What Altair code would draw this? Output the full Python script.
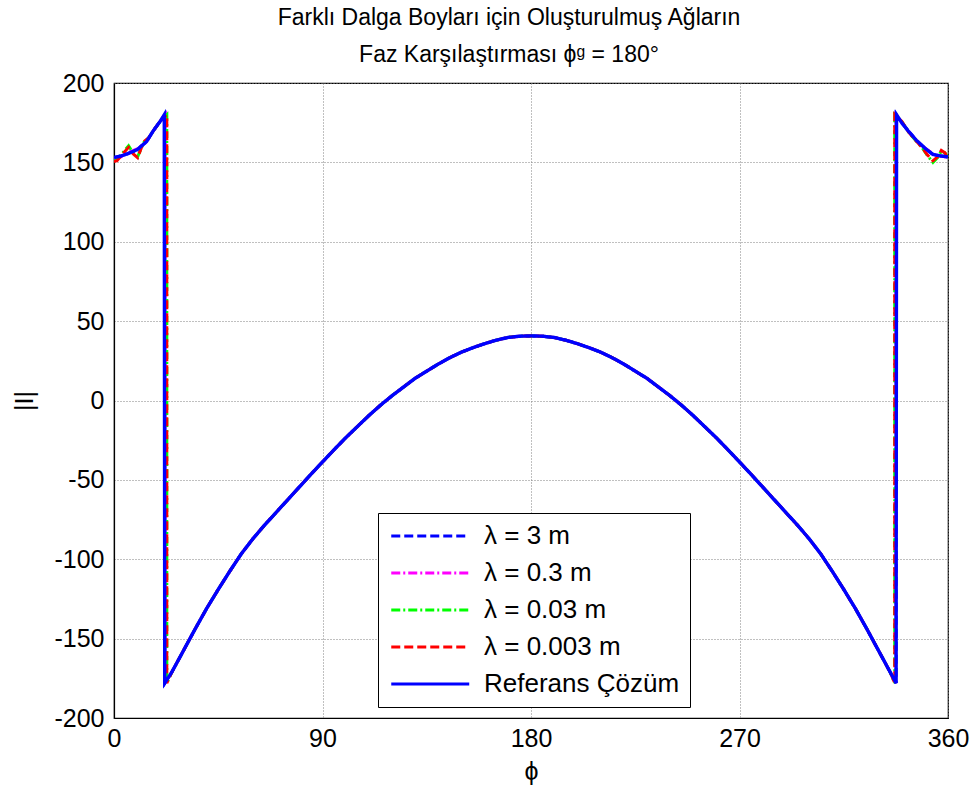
import altair as alt
import pandas as pd

FONT = "Liberation Sans"

series_names = ["λ = 3 m", "λ = 0.3 m", "λ = 0.03 m", "λ = 0.003 m", "Referans Çözüm"]
series_colors = ["#0000FF", "#FF00FF", "#00FF00", "#FF0000", "#0000FF"]
series_dashes = [[9, 4], [9, 3, 2, 3], [9, 3, 2, 3], [9, 4], [1, 0]]

# shared central arc (phase, degrees)
mid_x = [25, 30, 35, 40, 45, 50, 55, 60, 65, 70, 75, 80, 85, 90, 95, 100, 105, 110, 115, 120,
         125, 130, 135, 140, 145, 150, 155, 160, 165, 170, 175, 180, 185, 190, 195, 200, 205,
         210, 215, 220, 225, 230, 235, 240, 245, 250, 255, 260, 265, 270, 275, 280, 285, 290,
         295, 300, 305, 310, 315, 320, 325, 330, 335]
mid_y = [-171, -157.5, -144, -131, -119, -107.5, -96.5, -87, -78.5, -70.5, -62.5, -54.5, -46.5,
         -38.7, -31, -23.5, -16.5, -9.5, -3, 3, 8.5, 14, 18.5, 23, 27, 30.5, 33.3, 35.8, 38,
         39.7, 40.5, 40.7, 40.5, 39.7, 38, 35.8, 33.3, 30.5, 27, 23, 18.5, 14, 8.5, 3, -3,
         -9.5, -16.5, -23.5, -31, -38.7, -46.5, -54.5, -62.5, -70.5, -78.5, -87, -96.5,
         -107.5, -119, -131, -144, -157.5, -171]

# λ = 3 m
l3_left_x = [0, 3, 6, 10, 14, 17, 20, 22, 22]
l3_left_y = [153, 154, 155.5, 158, 163, 170, 176, 180, -178]
l3_right_x = [337.6, 337.6, 340, 343, 346.3, 350, 353.5, 357, 360]
l3_right_y = [-178, 180, 175, 169.5, 164, 159, 155, 154, 153.5]

# λ = 0.3 m
l03_left_x = [0, 3, 6, 10, 14, 17, 20, 22.3, 22.3]
l03_left_y = [152, 153.5, 156, 158.5, 163, 170, 176, 180, -178]
l03_right_x = [337.4, 337.4, 340, 343, 346, 350, 354, 357, 360]
l03_right_y = [-178, 180, 175.5, 169.5, 164, 159, 155, 154, 153]

# λ = 0.03 m
l003_left_x = [0, 1.5, 3.5, 6.3, 8.2, 10.2, 12.8, 15, 17.5, 20, 22.8, 22.8]
l003_left_y = [151, 152, 155.5, 160.5, 156, 153.5, 162.5, 165.5, 171, 176, 180, -178]
l003_right_x = [337, 337, 340, 343, 346, 349, 351, 353.5, 355.5, 357.1, 358.7, 360]
l003_right_y = [-178, 180, 176, 169, 164, 159, 154.5, 150, 153, 157, 156, 153]

# λ = 0.003 m
l0003_left_x = [0, 1.3, 3.5, 6.3, 8.2, 10.2, 12.8, 15, 17.5, 20, 22.8, 22.8]
l0003_left_y = [150.5, 151, 155, 159.5, 155.5, 153, 163, 165.5, 171, 176, 180, -178]
l0003_right_x = [337, 337, 340, 343, 346, 349, 351, 353.5, 355.5, 357.1, 358.7, 360]
l0003_right_y = [-178, 180, 176, 169, 164, 159, 155, 151, 153.5, 157.5, 156, 152.5]

# Referans Çözüm
ref_left_x = [0, 3, 6, 10, 14, 17, 20, 21.7, 21.9]
ref_left_y = [153, 154, 155.5, 158, 163, 170, 176, 180, -178]
ref_right_x = [337.6, 337.8, 340, 343, 346.3, 350, 353.5, 357, 360]
ref_right_y = [-178, 180, 175, 169.5, 164, 159, 155, 154, 153.5]

parts = [
    (l3_left_x, l3_left_y, l3_right_x, l3_right_y),
    (l03_left_x, l03_left_y, l03_right_x, l03_right_y),
    (l003_left_x, l003_left_y, l003_right_x, l003_right_y),
    (l0003_left_x, l0003_left_y, l0003_right_x, l0003_right_y),
    (ref_left_x, ref_left_y, ref_right_x, ref_right_y),
]

rows = []
for name, (lx, ly, rx, ry) in zip(series_names, parts):
    xs = lx + mid_x + rx
    ys = ly + mid_y + ry
    for i, (xv, yv) in enumerate(zip(xs, ys)):
        rows.append({"series": name, "phi": xv, "val": yv, "i": i})
df = pd.DataFrame(rows)

color_scale = alt.Scale(domain=series_names, range=series_colors)
dash_scale = alt.Scale(domain=series_names, range=series_dashes)

legend = alt.Legend(
    title=None,
    orient="none",
    legendX=264,
    legendY=430,
    strokeColor="black",
    fillColor="white",
    padding=10,
    symbolType="M-1,0H7",
    symbolSize=380,
    symbolStrokeWidth=3,
    labelOffset=70,
    labelFontSize=26,
    labelFont=FONT,
    labelColor="black",
    labelLimit=0,
    rowPadding=11,
)

base = alt.Chart(df)

layers = []
for k, name in enumerate(series_names):
    layers.append(
        base.transform_filter(alt.datum.series == name)
        .mark_line(strokeWidth=3 if k < 4 else 3.4, clip=True)
        .encode(
            x=alt.X(
                "phi:Q",
                scale=alt.Scale(domain=[0, 360], nice=False, zero=False),
                axis=alt.Axis(
                    values=[0, 90, 180, 270, 360],
                    title="ϕ",
                    labelFlush=False,
                    labelOverlap=False,
                    labelPadding=8,
                    titlePadding=8,
                    labelExpr="datum.value + ''",
                ),
            ),
            y=alt.Y(
                "val:Q",
                scale=alt.Scale(domain=[-200, 200], nice=False),
                axis=alt.Axis(
                    values=[-200, -150, -100, -50, 0, 50, 100, 150, 200],
                    title="|I|",
                    labelFlush=False,
                    labelOverlap=False,
                    labelPadding=10,
                    titlePadding=16,
                    labelExpr="datum.value + ''",
                ),
            ),
            color=alt.Color("series:N", scale=color_scale, legend=legend),
            strokeDash=alt.StrokeDash("series:N", scale=dash_scale, legend=legend),
            order=alt.Order("i:Q"),
        )
    )

chart = (
    alt.layer(*layers)
    .properties(
        width=834,
        height=635,
        title=alt.Title(
            text=["Farklı Dalga Boyları için Oluşturulmuş Ağların", "Faz Karşılaştırması ϕᵍ = 180°"],
            fontSize=23,
            fontWeight="normal",
            font=FONT,
            color="black",
            anchor="middle",
            lineHeight=37,
            offset=4,
            dx=-22,
        ),
        autosize=alt.AutoSizeParams(type="none"),
        padding={"left": 114, "top": 83, "right": 25, "bottom": 76},
        background="white",
    )
    .configure_view(stroke="black", strokeWidth=1.2)
    .configure_axis(
        grid=True,
        gridColor="#808080",
        gridDash=[1, 2],
        gridWidth=1,
        ticks=False,
        domainColor="black",
        domainWidth=1.2,
        labelFont=FONT,
        labelFontSize=25,
        labelColor="black",
        titleFont=FONT,
        titleFontSize=25,
        titleFontWeight="normal",
        titleColor="black",
    )
)

chart.save("out.html", embed_options={"renderer": "svg", "actions": False})
